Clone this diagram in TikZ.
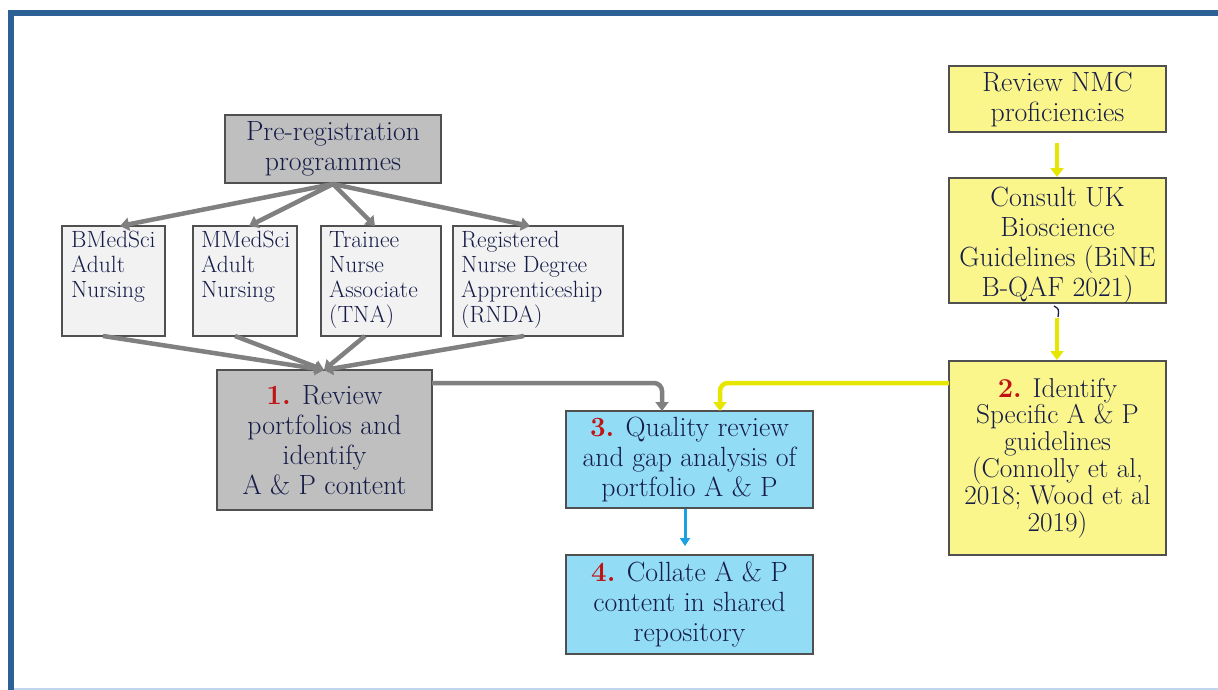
\documentclass[tikz,border=0pt]{standalone}
\usetikzlibrary{arrows.meta}
\definecolor{navy}{RGB}{22,28,72}
\definecolor{numred}{RGB}{192,20,20}
\definecolor{boxgray}{RGB}{191,191,191}
\definecolor{lightgray}{RGB}{242,242,242}
\definecolor{skyblue}{RGB}{146,220,245}
\definecolor{paleyellow}{RGB}{250,246,140}
\definecolor{framblue}{RGB}{45,97,149}
\definecolor{arrgray}{RGB}{128,128,128}
\definecolor{arryellow}{RGB}{230,230,0}
\definecolor{arrblue}{RGB}{27,161,226}
\definecolor{edgegray}{RGB}{80,80,80}
\definecolor{paleline}{RGB}{190,215,238}
\newcommand{\num}[1]{\textcolor{numred}{\textbf{#1}}}
\tikzset{
  boxbase/.style={draw=edgegray, line width=1.4pt, inner sep=0pt, text=navy, align=center},
  graybox/.style={boxbase, fill=boxgray},
  progbox/.style={boxbase, fill=lightgray},
  bluebox/.style={boxbase, fill=skyblue},
  yelbox/.style={boxbase, fill=paleyellow},
  bigtxt/.style={font=\fontsize{27.8}{30}\selectfont},
  plaintxt/.style={text=navy, align=center, inner sep=0pt},
  smalltxt/.style={font=\fontsize{23.5}{25}\selectfont, text=navy, align=left, inner sep=0pt, anchor=north west},
  grayarr/.style={draw=arrgray, line width=4.5pt, -{Triangle[width=13pt,length=9pt]}},
  yelarr/.style={draw=arryellow, line width=4.5pt, -{Triangle[width=13pt,length=9pt]}},
  bluearr/.style={draw=arrblue, line width=3pt, -{Triangle[width=10pt,length=8pt]}},
}
\begin{document}
\begin{tikzpicture}[x=1pt,y=-1pt]
\useasboundingbox (0,0) rectangle (1218,690);
\fill[white] (0,0) rectangle (1218,690);
% frame
\draw[framblue, line width=6pt] (11,690) -- (11,13) -- (1218,13);
\draw[paleline, line width=2pt] (14,688.5) -- (1218,688.5);

% nodes
\node[graybox, bigtxt, minimum width=216pt, minimum height=68pt] (pre) at (333,149) {Pre-registration\\programmes};
\node[progbox, minimum width=103pt, minimum height=110pt] (bm) at (113.5,281) {};
\node[progbox, minimum width=104pt, minimum height=110pt] (mm) at (245,281) {};
\node[progbox, minimum width=120pt, minimum height=110pt] (tn) at (381,281) {};
\node[progbox, minimum width=170pt, minimum height=110pt] (rn) at (538,281) {};
\node[smalltxt] (bmt) at (71,231) {BMedSci\\Adult\\Nursing};
\node[smalltxt] (mmt) at (201,231) {MMedSci\\Adult\\Nursing};
\node[smalltxt] (tnt) at (329,231) {Trainee\\Nurse\\Associate\\(TNA)};
\node[smalltxt] (rnt) at (461,231) {Registered\\Nurse Degree\\Apprenticeship\\(RNDA)};

\node[graybox, bigtxt, minimum width=215pt, minimum height=140pt] (r1) at (324.5,440) {\num{1.} Review\\portfolios and\\identify\\A \& P content};
\node[bluebox, bigtxt, minimum width=247pt, minimum height=97pt] (q3) at (689.5,459.5) {\num{3.} Quality review\\and gap analysis of\\portfolio A \& P};
\node[bluebox, bigtxt, minimum width=247pt, minimum height=99pt] (c4) at (689.5,604.5) {\num{4.} Collate A \& P\\content in shared\\repository};

\node[yelbox, bigtxt, minimum width=217pt, minimum height=66pt] (nmc) at (1057.5,99) {Review NMC\\proficiencies};
\node[yelbox, minimum width=217pt, minimum height=125pt] (bine) at (1057.5,240.5) {};
\node[plaintxt, bigtxt] (binetxt) at (1057.5,245) {Consult UK\\Bioscience\\Guidelines (BiNE\\B-QAF 2021)};
\node[yelbox, font=\fontsize{27.3}{26.8}\selectfont, minimum width=217pt, minimum height=194pt] (id2) at (1057.5,458) {\num{2.} Identify\\Specific A \& P\\guidelines\\(Connolly et al,\\2018; Wood et al\\2019)};

% connector end points
\coordinate (pb) at (333,184);
\coordinate (r1t) at (324,370);
\coordinate (bmb) at (103,336);
\coordinate (mmb) at (235,336);
\coordinate (tnb) at (365,336);
\coordinate (rnb) at (524,336);
\coordinate (bmt0) at (120,226);
\coordinate (mmt0) at (249,226);
\coordinate (tnt0) at (375,226);
\coordinate (rnt0) at (530,226);
\coordinate (r1out) at (432,383);
\coordinate (gcorner) at (662,383);
\coordinate (gend) at (662,411);
\coordinate (id2out) at (949,383);
\coordinate (ycorner) at (720,383);
\coordinate (yend) at (720,411);
\coordinate (nmcb) at (1057,143);
\coordinate (binet) at (1057,177);
\coordinate (bineb) at (1057,318);
\coordinate (id2t) at (1057,360);
\coordinate (q3b) at (685,509);
\coordinate (c4t) at (685,546);

\draw[grayarr] (pb) -- (bmt0);
\draw[grayarr] (pb) -- (mmt0);
\draw[grayarr] (pb) -- (tnt0);
\draw[grayarr] (pb) -- (rnt0);
\draw[grayarr] (bmb) -- (r1t);
\draw[grayarr] (mmb) -- (r1t);
\draw[grayarr] (tnb) -- (r1t);
\draw[grayarr] (rnb) -- (r1t);

% elbow connectors to box 3
\draw[grayarr, rounded corners=8pt] (r1out) -- (gcorner) -- (gend);
\draw[yelarr, rounded corners=8pt] (id2out) -- (ycorner) -- (yend);

% yellow vertical arrows
\draw[yelarr] (nmcb) -- (binet);
\draw[yelarr] (bineb) -- (id2t);
\draw[navy, line width=1.3pt] (1054,306) .. controls (1059,309) .. (1058,317);

% blue arrow
\draw[bluearr] (q3b) -- (c4t);
\end{tikzpicture}
\end{document}
